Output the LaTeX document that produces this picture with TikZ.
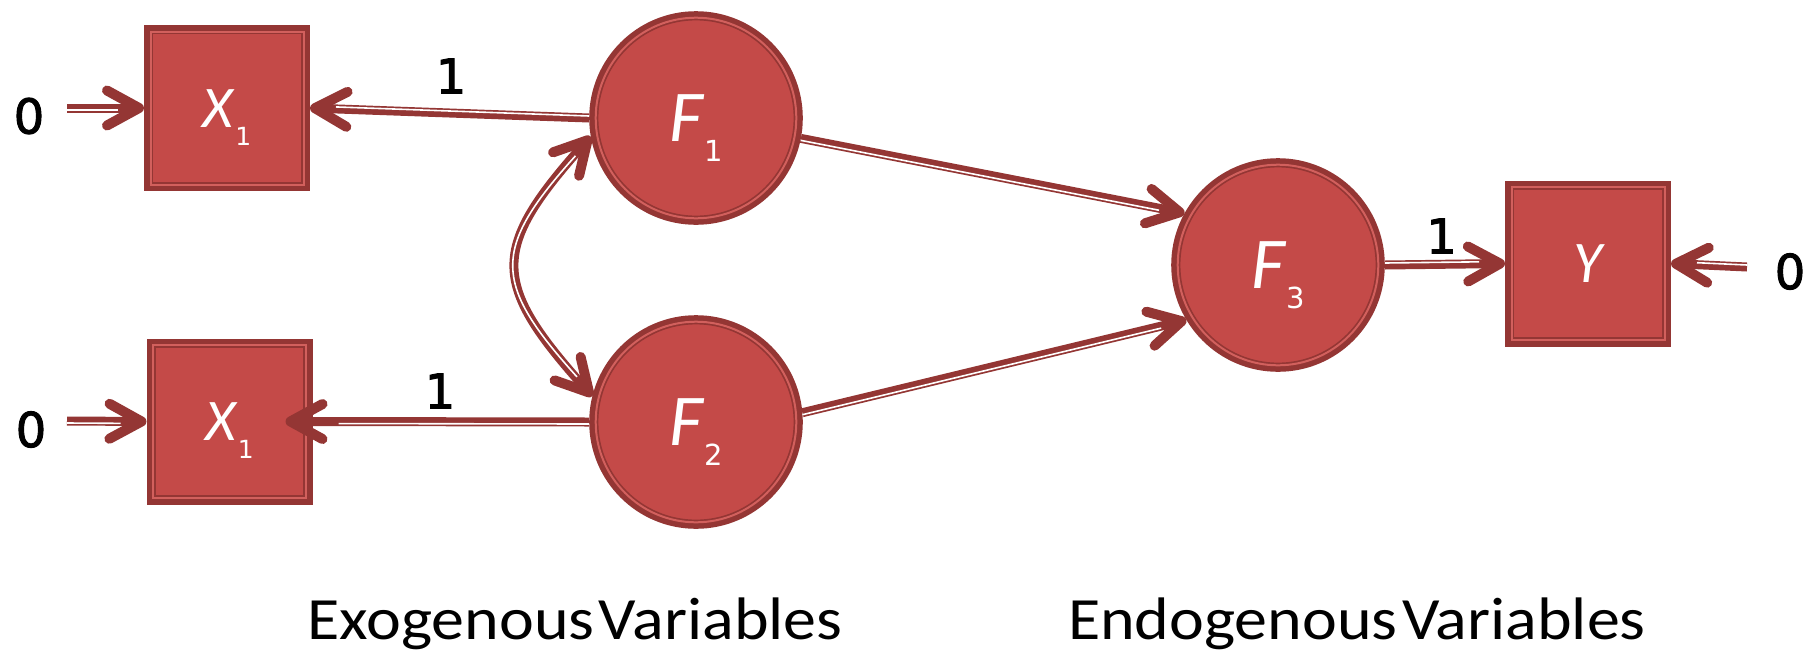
\documentclass[tikz,border=0pt]{standalone}
\usepackage{fontspec}
\setmainfont{Carlito}[Numbers=Lining]
\newfontfamily\digitfont[FakeBold=2]{DejaVu Sans}
\newfontfamily\subfont{DejaVu Sans}
\usetikzlibrary{arrows.meta}
\definecolor{nfill}{HTML}{C44A48}
\definecolor{ndark}{HTML}{943634}
\definecolor{nlight}{HTML}{D2605D}
\pgfdeclarearrow{
  name = Chev,
  setup code = {
    \pgfarrowssettipend{5pt}
    \pgfarrowssetlineend{-2pt}
    \pgfarrowssetvisualbackend{-33pt}
    \pgfarrowssetbackend{-38pt}
    \pgfarrowshullpoint{5pt}{0pt}
    \pgfarrowshullpoint{-38pt}{23pt}
    \pgfarrowshullpoint{-38pt}{-23pt}
  },
  drawing code = {
    \pgfsetlinewidth{10pt}
    \pgfsetroundcap
    \pgfsetroundjoin
    \pgfsetdash{}{0pt}
    \pgfpathmoveto{\pgfqpoint{-32pt}{17.5pt}}
    \pgfpathlineto{\pgfqpoint{0pt}{0pt}}
    \pgfpathlineto{\pgfqpoint{-32pt}{-17.5pt}}
    \pgfusepathqstroke
  }
}
\tikzset{
  varnode/.style={fill=nfill, draw=ndark, line width=1.7pt, double=nlight,
    double distance=2pt, preaction={draw=ndark, line width=13pt},
    outer sep=6.5pt, inner sep=0pt, text=white, text depth=0pt},
  latent/.style={varnode, circle, minimum size=200.6pt, text height=47.8pt},
  manifest/.style={varnode, rectangle, minimum size=153pt, text height=38.6pt},
  conn/.style={draw=ndark, line width=9pt, -{Chev}},
  conntwo/.style={draw=ndark, line width=9pt, {Chev}-{Chev}},
  stripe/.style={postaction={draw=white, line width=1.6pt, arrows=-,
    shorten >=26pt, transform canvas={shift={#1}}}},
  stripetwo/.style={postaction={draw=white, line width=1.6pt, arrows=-,
    shorten >=26pt, shorten <=26pt, transform canvas={shift={#1}}}},
  num/.style={font=\digitfont\fontsize{48}{48}\selectfont, inner sep=0pt},
  caption/.style={font=\fontsize{60}{60}\selectfont, inner sep=0pt, anchor=base}
}
\newcommand{\flab}[2]{{\fontsize{73}{73}\selectfont\itshape #1}\kern2pt\raisebox{-19.3pt}{\subfont\fontsize{29}{29}\selectfont #2}}
\newcommand{\xlab}[2]{{\fontsize{59}{59}\selectfont\itshape #1}\kern2pt\raisebox{-17.7pt}{\subfont\fontsize{25}{25}\selectfont #2}}
\begin{document}
\begin{tikzpicture}[x=1pt,y=-1pt]
\useasboundingbox (0,0) rectangle (1820,654);
% nodes
\node[manifest] (X1a) at (227,108) {\xlab{X}{1}};
\node[manifest] (X1b) at (229.5,421.5) {\xlab{X}{1}};
\node[manifest] (Y) at (1588,263.5) {{\fontsize{59}{59}\selectfont\itshape Y}};
\node[latent] (F1) at (696,118) {\flab{F}{1}};
\node[latent] (F2) at (696,422) {\flab{F}{2}};
\node[latent] (F3) at (1278,265) {\flab{F}{3}};
% free ends
\coordinate (c1) at (67,108);
\coordinate (c2) at (67,421);
\coordinate (c3) at (1747,267);
% texts
\node[num] (z1) at (29,116) {0};
\node[num] (z2) at (31,429.5) {0};
\node[num] (z3) at (1790,271.5) {0};
\node[num] (o1) at (451,76) {1};
\node[num] (o2) at (440,391) {1};
\node[num] (o3) at (1441.5,236) {1};
\node[caption] (exo) at (575,639.5) {\scalebox{1.1}[1]{Exogenous\hspace{4pt}Variables}};
\node[caption] (endo) at (1357,639.5) {\scalebox{1.1}[1]{Endogenous\hspace{4pt}Variables}};
% connectors
\draw[conn, stripe={(0,2)}] (c1) -- (X1a.west);
\draw[conn, stripe={(0,-2)}] (F1.west) -- (X1a.east);
\draw[conn, stripe={(0,2)}] (c2) -- (X1b.west);
\draw[conn, stripe={(0,2)}, shorten >=-27pt] (F2.west) -- (X1b.east);
\draw[conntwo, stripetwo={(2,0)}] (F1.190) to[out=228, in=132, looseness=1.5] (F2.166);
\draw[conn, stripe={(0,2)}] (F1.-11) -- (F3.151);
\draw[conn, stripe={(0,2)}] (F2.5) -- (F3.211);
\draw[conn, stripe={(0,-2)}] (F3.east) -- (Y.west);
\draw[conn, stripe={(0,-2)}] (c3) -- (Y.east);
\end{tikzpicture}
\end{document}
